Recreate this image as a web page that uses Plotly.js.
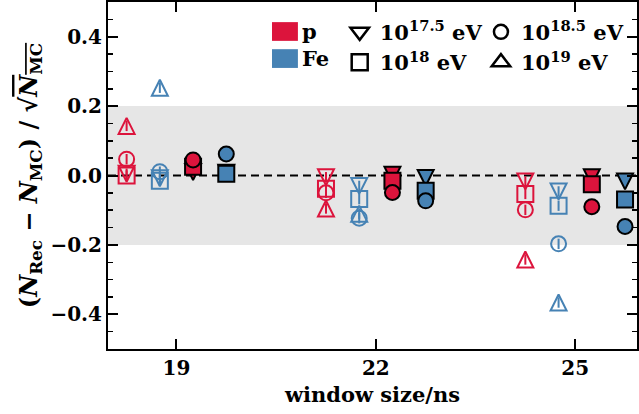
<!DOCTYPE html>
<html><head><meta charset="utf-8">
<script src="https://cdn.plot.ly/plotly-3.0.1.min.js"></script>
<style>html,body{margin:0;padding:0;background:#fff;}</style>
</head><body><div id="chart" style="width:639px;height:414px;"></div>
<script>
// ---- data ----
const windowSizes = [19, 22, 25];
const windowTickText = ['19', '22', '25'];
const energyLabels = ['10<sup>17.5</sup> eV', '10<sup>18</sup> eV', '10<sup>18.5</sup> eV', '10<sup>19</sup> eV'];
const primaryLabels = ['p', 'Fe'];

// hollow markers
const pOpen_e175 = [0.005, -0.005, -0.017];
const pOpen_e18  = [0.0, -0.038, -0.053];
const pOpen_e185 = [0.047, -0.05, -0.099];
const pOpen_e19  = [0.143, -0.095, -0.242];

const feOpen_e175 = [-0.008, -0.03, -0.046];
const feOpen_e18  = [-0.015, -0.068, -0.087];
const feOpen_e185 = [0.011, -0.123, -0.197];
const feOpen_e19  = [0.253, -0.11, -0.366];
const openErr = [0.015, 0.015, 0.015];

// filled markers
const pFilled_e175 = [0.01, 0.002, -0.005];
const pFilled_e18  = [0.025, -0.015, -0.025];
const pFilled_e185 = [0.045, -0.049, -0.09];

const feFilled_e175 = [0.008, -0.007, -0.017];
const feFilled_e18  = [0.005, -0.044, -0.069];
const feFilled_e185 = [0.062, -0.073, -0.147];

// ---- style ----
const RED = '#dc143c', BLUE = '#4682b4';
const MS = 16;
const SYM = {
  down:   {symbol: 'arrow-down', angle: 0,   standoff: MS/2},
  square: {symbol: 'square', angle: 0, standoff: 0},
  circle: {symbol: 'circle', angle: 0, standoff: 0},
  up:     {symbol: 'arrow-down', angle: 180, standoff: MS/2}
};
const LEGSYM = {down: 'triangle-down-open', square: 'square-open', circle: 'circle-open', up: 'triangle-up-open'};
const offsets = {pOpen: -0.75, feOpen: -0.25, pFilled: 0.25, feFilled: 0.75};

function xs(off) { return windowSizes.map(w => w + off); }

function openTrace(vals, color, sym, off) {
  const s = SYM[sym];
  return {
    type: 'scatter', mode: 'markers', x: xs(off), y: vals, showlegend: false, hoverinfo: 'skip',
    error_y: {type: 'data', array: openErr, thickness: 2, width: 0, color: color},
    marker: {symbol: s.symbol + '-open', angle: s.angle, standoff: s.standoff, size: sym==='circle'?15:MS, color: color, line: {color: color, width: 2}}
  };
}
function filledTrace(vals, color, sym, off) {
  const s = SYM[sym];
  return {
    type: 'scatter', mode: 'markers', x: xs(off), y: vals, showlegend: false, hoverinfo: 'skip',
    marker: {symbol: s.symbol, angle: s.angle, standoff: s.standoff, size: sym==='circle'?15:MS, color: color, line: {color: 'black', width: 2}}
  };
}
function legendTrace(name, sym, legend) {
  return {
    type: 'scatter', mode: 'markers', x: [null], y: [null], name: name, legend: legend, showlegend: true,
    marker: {symbol: LEGSYM[sym], size: sym==='circle'?14:16, color: 'black', line: {color: 'black', width: 2.5}}
  };
}

const traces = [
  openTrace(pOpen_e175, RED, 'down', offsets.pOpen),
  openTrace(pOpen_e18, RED, 'square', offsets.pOpen),
  openTrace(pOpen_e185, RED, 'circle', offsets.pOpen),
  openTrace(pOpen_e19, RED, 'up', offsets.pOpen),
  openTrace(feOpen_e175, BLUE, 'down', offsets.feOpen),
  openTrace(feOpen_e18, BLUE, 'square', offsets.feOpen),
  openTrace(feOpen_e185, BLUE, 'circle', offsets.feOpen),
  openTrace(feOpen_e19, BLUE, 'up', offsets.feOpen),
  filledTrace(pFilled_e175, RED, 'down', offsets.pFilled),
  filledTrace(pFilled_e18, RED, 'square', offsets.pFilled),
  filledTrace(pFilled_e185, RED, 'circle', offsets.pFilled),
  filledTrace(feFilled_e175, BLUE, 'down', offsets.feFilled),
  filledTrace(feFilled_e18, BLUE, 'square', offsets.feFilled),
  filledTrace(feFilled_e185, BLUE, 'circle', offsets.feFilled),
  legendTrace(energyLabels[0], 'down', 'legend2'),
  legendTrace(energyLabels[1], 'square', 'legend2'),
  legendTrace(energyLabels[2], 'circle', 'legend3'),
  legendTrace(energyLabels[3], 'up', 'legend3')
];

const FONT = 'DejaVu Serif';
const legendCommon = {bgcolor: 'rgba(0,0,0,0)', borderwidth: 0, orientation: 'v', yanchor: 'top', xanchor: 'left',
  font: {family: FONT, size: 21, weight: 'bold', color: 'black'}, itemwidth: 30, tracegroupgap: 0};

const layout = {
  width: 639, height: 414,
  margin: {l: 108, r: 2, t: 2, b: 65, pad: 0},
  paper_bgcolor: 'white', plot_bgcolor: 'white',
  font: {family: FONT, size: 19, color: 'black', weight: 'bold'},
  showlegend: true,
  legend2: Object.assign({}, legendCommon, {x: 0.438, y: 0.972}),
  legend3: Object.assign({}, legendCommon, {x: 0.705, y: 0.972}),
  xaxis: {
    range: [17.97, 25.93], tickvals: windowSizes, ticktext: windowTickText,
    ticks: 'inside', ticklen: 10, tickwidth: 2, tickcolor: 'black',
    showline: true, linewidth: 2, linecolor: 'black', mirror: 'ticks',
    showgrid: false, zeroline: false,
    tickfont: {family: FONT, size: 20, weight: 'bold'},
    title: {text: 'window size/ns', standoff: 8, font: {family: FONT, size: 21, weight: 'bold'}}
  },
  yaxis: {
    range: [-0.5, 0.5], tick0: 0, dtick: 0.2, tickformat: '.1f',
    ticks: 'inside', ticklen: 10, tickwidth: 2, tickcolor: 'black',
    showline: true, linewidth: 2, linecolor: 'black', mirror: 'ticks',
    showgrid: false, zeroline: false,
    minor: {dtick: 0.05, tick0: 0, ticks: 'inside', ticklen: 5, tickwidth: 1.5, tickcolor: 'black', showgrid: false},
    tickfont: {family: FONT, size: 20, weight: 'bold'},
    title: {text: '(<i>N</i><sub>Rec</sub> − <i>N</i><sub>MC</sub>) / √<span style="text-decoration:overline"><i>N</i><sub>MC</sub></span>', standoff: 6,
            font: {family: FONT, size: 24, weight: 'bold'}}
  },
  shapes: [
    {type: 'rect', xref: 'paper', x0: 0, x1: 1, yref: 'y', y0: -0.2, y1: 0.2, fillcolor: '#e6e6e6', line: {width: 0}, layer: 'below'},
    {type: 'line', xref: 'paper', x0: 0, x1: 1, yref: 'y', y0: 0, y1: 0, line: {color: 'black', width: 2, dash: '8px,5px'}, layer: 'below'},
    {type: 'rect', xref: 'paper', yref: 'paper', x0: 0.310, x1: 0.359, y0: 0.888, y1: 0.942, fillcolor: RED, line: {width: 0}, layer: 'above'},
    {type: 'rect', xref: 'paper', yref: 'paper', x0: 0.310, x1: 0.359, y0: 0.810, y1: 0.864, fillcolor: BLUE, line: {width: 0}, layer: 'above'}
  ],
  annotations: [
    {xref: 'paper', yref: 'paper', x: 0.363, y: 0.915, xanchor: 'left', yanchor: 'middle', showarrow: false, text: primaryLabels[0], font: {family: FONT, size: 21, weight: 'bold', color: 'black'}},
    {xref: 'paper', yref: 'paper', x: 0.363, y: 0.837, xanchor: 'left', yanchor: 'middle', showarrow: false, text: primaryLabels[1], font: {family: FONT, size: 21, weight: 'bold', color: 'black'}}
  ]
};

Plotly.newPlot('chart', traces, layout, {staticPlot: true, displayModeBar: false});
</script>
</body></html>
